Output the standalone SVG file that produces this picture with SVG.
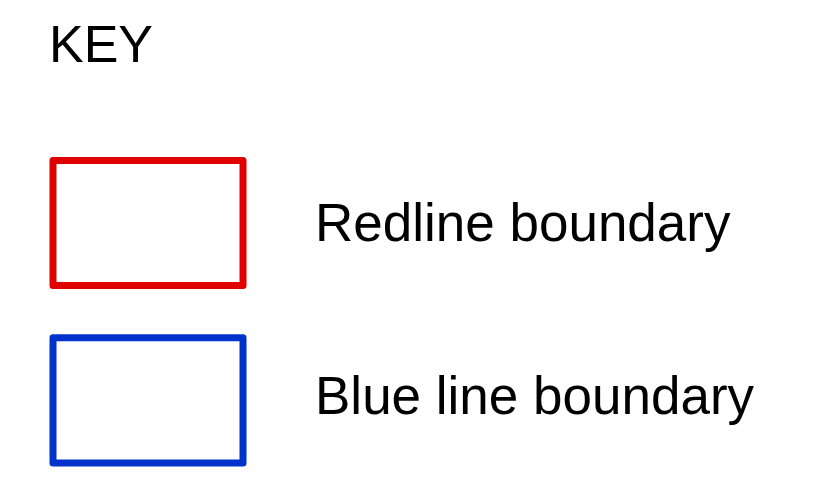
<svg xmlns="http://www.w3.org/2000/svg" width="828" height="482" viewBox="0 0 828 482">
<style>
.t{font-family:"Liberation Sans",Arial,sans-serif;fill:#000}
.box{fill:#fff;stroke-width:7;stroke-linejoin:round}
</style>
<rect width="828" height="482" fill="#fff"/>
<g id="title"><text class="t" x="49" y="62" font-size="52">KEY</text></g>
<g id="redline">
<rect class="box" x="53" y="160.5" width="190" height="125" stroke="#e00000"/>
<text class="t" x="315" y="241" font-size="53">Redline boundary</text>
</g>
<g id="blueline">
<rect class="box" x="53" y="337.7" width="190" height="125.3" stroke="#0033cc"/>
<text class="t" x="315" y="414" font-size="53">Blue line boundary</text>
</g>
<g id="connectors"/>
</svg>
